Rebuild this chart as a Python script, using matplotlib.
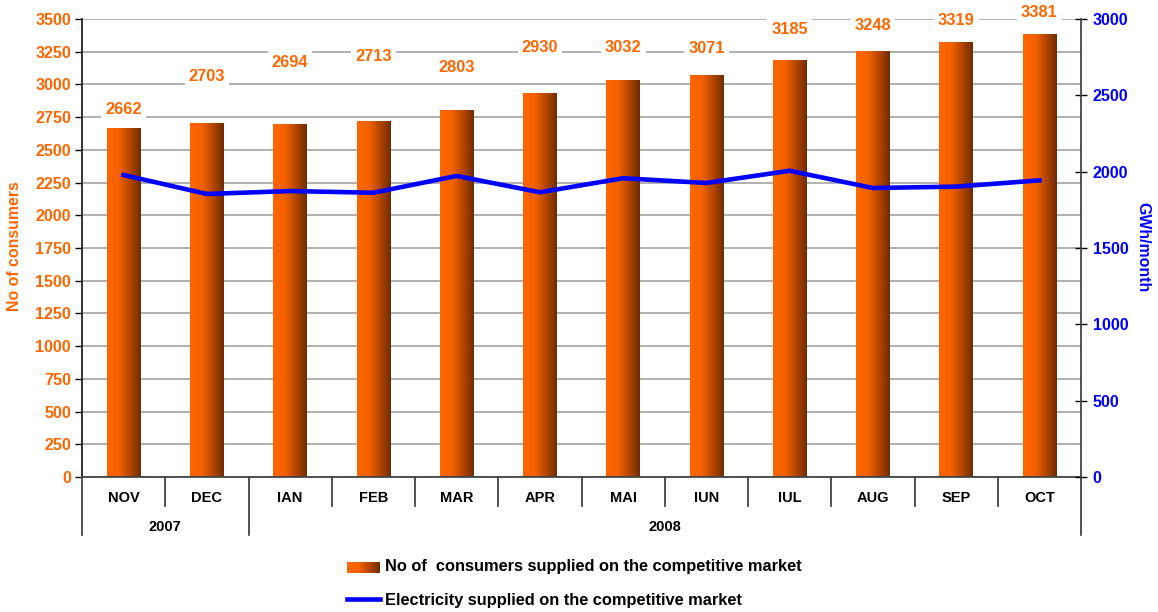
import numpy as np
import matplotlib
matplotlib.use("Agg")
import matplotlib.pyplot as plt
from matplotlib.colors import LinearSegmentedColormap
from matplotlib.lines import Line2D

plt.rcParams['font.family'] = ['Liberation Sans', 'DejaVu Sans']
plt.rcParams['font.weight'] = 'bold'

months = ["NOV", "DEC", "IAN", "FEB", "MAR", "APR", "MAI", "IUN", "IUL", "AUG", "SEP", "OCT"]
years = ["2007", "2008"]
year_spans = [(0, 1), (2, 11)]
consumers = [2662, 2703, 2694, 2713, 2803, 2930, 3032, 3071, 3185, 3248, 3319, 3381]
gwh = [1978, 1854, 1873, 1862, 1972, 1865, 1957, 1926, 2006, 1893, 1902, 1943]
# vertical placement of value labels (left-axis units), as laid out in the source
label_y = [2805, 3057, 3164, 3210, 3133, 3286, 3286, 3278, 3416, 3447, 3485, 3546]

ORANGE = '#FF6600'
BLUE = '#0000FF'
cmap = LinearSegmentedColormap.from_list(
    'bar', [(0.0, '#FF6600'), (0.35, '#F56200'), (0.7, '#B04400'), (1.0, '#6E2C00')])
grad = np.linspace(0, 1, 256).reshape(1, -1)

W, H = 1158, 612
fig = plt.figure(figsize=(W / 100, H / 100), dpi=100)
L, R, T, B = 82, 1081, 19, 477
ax = fig.add_axes([L / W, 1 - B / H, (R - L) / W, (B - T) / H])

x = np.arange(len(months))
bars = ax.bar(x, consumers, width=0.4, color='none', zorder=2)
for b in bars:
    x0, y0 = b.get_x(), b.get_y()
    ax.imshow(grad, extent=[x0, x0 + b.get_width(), y0, y0 + b.get_height()],
              aspect='auto', cmap=cmap, zorder=2, interpolation='bilinear')
ax.set_xlim(-0.5, len(months) - 0.5)
ax.set_ylim(0, 3500)
ax.set_yticks(np.arange(0, 3501, 250))
ax.yaxis.grid(True, color='#AAAAAA', lw=1.3, zorder=0)
ax.set_axisbelow(True)
ax.tick_params(axis='y', direction='out', length=5, width=1, colors='black',
               labelcolor=ORANGE, labelsize=11.6, pad=3)
for lab in ax.get_yticklabels():
    lab.set_fontweight('bold')
ax.set_xticks([])
for s in ['top', 'right']:
    ax.spines[s].set_visible(False)
ax.spines['left'].set_color('#222222')
ax.spines['bottom'].set_color('#444444')
ax.spines['left'].set_linewidth(1.3)
ax.spines['bottom'].set_linewidth(1.3)

for xi, v, ly in zip(x, consumers, label_y):
    ax.text(xi, ly, str(v), ha='center', va='center', color=ORANGE, fontsize=11.8,
            fontweight='bold', zorder=3, clip_on=False,
            bbox=dict(boxstyle='square,pad=0.25', fc='white', ec='none'))

# category axis (two levels)
tx = ax.get_xaxis_transform()
month_depth = -(506 - B) / (B - T)
year_depth = -(535 - B) / (B - T)
year_bounds = [-0.5] + [e + 0.5 for _, e in year_spans]
for i in range(len(months) - 1):
    xb = i + 0.5
    d = year_depth if xb in year_bounds else month_depth
    ax.plot([xb, xb], [0, d], transform=tx, color='#333333', lw=1.2, clip_on=False)
for xb in [year_bounds[0], year_bounds[-1]]:
    ax.plot([xb, xb], [0, year_depth], transform=tx, color='#333333', lw=1.2, clip_on=False)
for xi, m in zip(x, months):
    ax.text(xi, -(498 - B) / (B - T), m, transform=tx, ha='center', va='center',
            fontsize=10.5, fontweight='bold', color='black')
for yname, (s, e) in zip(years, year_spans):
    ax.text((s + e) / 2, -(527 - B) / (B - T), yname, transform=tx, ha='center',
            va='center', fontsize=10.5, fontweight='bold', color='black')

ax2 = ax.twinx()
ax2.set_ylim(0, 3000)
ax2.set_yticks(np.arange(0, 3001, 500))
ax2.plot(x, gwh, color=BLUE, lw=3.3, solid_joinstyle='miter', zorder=4)
ax2.tick_params(axis='y', direction='inout', length=9, width=1, colors='black',
                labelcolor=BLUE, labelsize=11.6, pad=4)
for lab in ax2.get_yticklabels():
    lab.set_fontweight('bold')
for s in ['top', 'left', 'bottom']:
    ax2.spines[s].set_visible(False)
ax2.spines['right'].set_color('#444444')
ax2.spines['right'].set_linewidth(1.3)

fig.text(15 / W, 1 - 246 / H, 'No of consumers', rotation=90, ha='center', va='center',
         color=ORANGE, fontsize=11.4, fontweight='bold')
fig.text(1143 / W, 1 - 247 / H, 'GWh/month', rotation=-90, ha='center', va='center',
         color=BLUE, fontsize=11.4, fontweight='bold')

# legend
lax = fig.add_axes([347 / W, 1 - 573 / H, 33 / W, 11 / H])
lax.imshow(grad, aspect='auto', cmap=cmap, interpolation='bilinear')
lax.axis('off')
fig.text(385 / W, 1 - 567 / H, 'No of  consumers supplied on the competitive market',
         ha='left', va='center', fontsize=11.8, fontweight='bold', color='black')
fig.add_artist(Line2D([347 / W, 380 / W], [1 - 599 / H] * 2, color=BLUE, lw=3.3))
fig.text(385 / W, 1 - 600 / H, 'Electricity supplied on the competitive market',
         ha='left', va='center', fontsize=11.8, fontweight='bold', color='black')

fig.savefig('out.png', dpi=100)
